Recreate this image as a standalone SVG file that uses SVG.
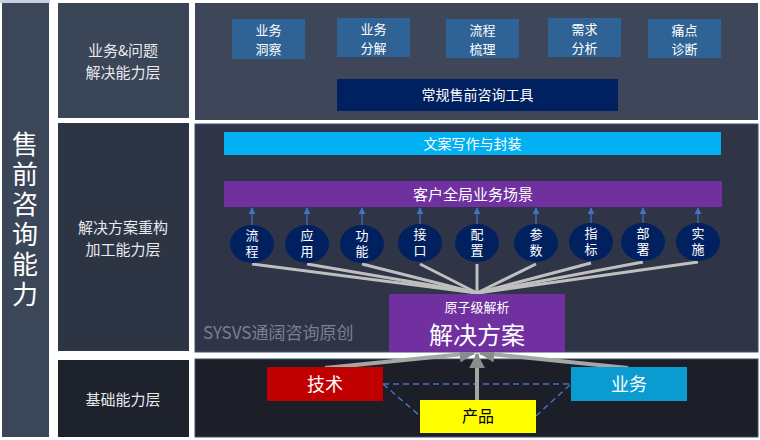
<svg xmlns="http://www.w3.org/2000/svg" width="760" height="440" viewBox="0 0 760 440">
<defs>
<style>
.t{font-family:"Noto Sans CJK SC","Liberation Sans",sans-serif;fill:#ffffff;text-anchor:middle}
.lbl{font-size:15px;fill:#e8eaee}
.box{font-size:13px}
.circ{fill:#002060}
.ct{font-size:13px;writing-mode:vertical-rl;letter-spacing:3px}
.gl{stroke:#bfbfbf;stroke-width:3;fill:none}
.ga{stroke:#a6a6a6;stroke-width:4;fill:none}
.ba{stroke:#4472c4;stroke-width:1.2;fill:none}
.dash{stroke:#4472c4;stroke-width:1.5;stroke-dasharray:6,4;fill:none}
</style>
<marker id="bh" viewBox="0 0 10 10" refX="9" refY="5" markerWidth="7" markerHeight="7" markerUnits="userSpaceOnUse" orient="auto">
<path d="M0,0 L10,5 L0,10 z" fill="#4472c4"/>
</marker>
<marker id="gh" viewBox="0 0 10 10" refX="9" refY="5" markerWidth="4" markerHeight="4" orient="auto">
<path d="M0,0 L10,5 L0,10 z" fill="#8c8c8c"/>
</marker>
</defs>
<rect width="760" height="440" fill="#ffffff"/>
<g id="panels">
<rect x="0" y="0" width="50" height="3" fill="#c9d0e0"/>
<rect x="2" y="3" width="47" height="434" fill="#3b4659"/>
<rect x="58" y="3" width="131" height="115" fill="#3b4558"/>
<rect x="195" y="3" width="563" height="117" fill="#3d4759"/>
<rect x="58" y="123" width="131" height="228" fill="#2d3444"/>
<rect x="195" y="124" width="563" height="228" fill="#2f3546" stroke="#3d5070" stroke-width="1"/>
<rect x="58" y="360" width="131" height="77" fill="#1e222c"/>
<rect x="195" y="359" width="563" height="78" fill="#1c1f28" stroke="#3a4e6a" stroke-width="1"/>
</g>
<g id="left-title">
<text class="t" x="25" y="221" font-size="26" style="writing-mode:vertical-rl;letter-spacing:4px">售前咨询能力</text>
</g>
<g id="row1-label"><text class="t lbl" x="123" y="56">业务&amp;问题</text><text class="t lbl" x="123" y="78">解决能力层</text></g>
<g id="row2-label"><text class="t lbl" x="123" y="233">解决方案重构</text><text class="t lbl" x="123" y="255">加工能力层</text></g>
<g id="row3-label"><text class="t lbl" x="123" y="405">基础能力层</text></g>
<g id="n-insight"><rect x="232" y="19" width="73" height="40" fill="#2f6395"/><text class="t box" x="268.5" y="35">业务</text><text class="t box" x="268.5" y="54">洞察</text></g>
<g id="n-decomp"><rect x="337" y="18" width="73" height="39" fill="#2f6395"/><text class="t box" x="373.5" y="34">业务</text><text class="t box" x="373.5" y="53">分解</text></g>
<g id="n-process"><rect x="446" y="19" width="73" height="39" fill="#2f6395"/><text class="t box" x="482.5" y="35">流程</text><text class="t box" x="482.5" y="54">梳理</text></g>
<g id="n-demand"><rect x="548" y="18" width="73" height="39" fill="#2f6395"/><text class="t box" x="584.5" y="34">需求</text><text class="t box" x="584.5" y="53">分析</text></g>
<g id="n-pain"><rect x="648" y="19" width="73" height="39" fill="#2f6395"/><text class="t box" x="684.5" y="35">痛点</text><text class="t box" x="684.5" y="54">诊断</text></g>
<g id="n-tools"><rect x="337" y="79" width="281" height="32" fill="#002060"/><text class="t" font-size="14" x="477.5" y="100">常规售前咨询工具</text></g>
<g id="n-writing"><rect x="224" y="132" width="497" height="23" fill="#00b0f0"/><text class="t" font-size="14" x="472.5" y="148.5">文案写作与封装</text></g>
<g id="n-scene"><rect x="224" y="181" width="498" height="26" fill="#7030a0"/><text class="t" font-size="15" x="473" y="199.5">客户全局业务场景</text></g>
<g id="connectors">
<g>
<line class="ba" x1="252" y1="225" x2="252" y2="208" marker-end="url(#bh)"/>
<line class="ba" x1="307" y1="225" x2="307" y2="208" marker-end="url(#bh)"/>
<line class="ba" x1="362" y1="225" x2="362" y2="208" marker-end="url(#bh)"/>
<line class="ba" x1="420" y1="225" x2="420" y2="208" marker-end="url(#bh)"/>
<line class="ba" x1="477" y1="225" x2="477" y2="208" marker-end="url(#bh)"/>
<line class="ba" x1="536" y1="225" x2="536" y2="208" marker-end="url(#bh)"/>
<line class="ba" x1="591" y1="225" x2="591" y2="208" marker-end="url(#bh)"/>
<line class="ba" x1="643" y1="225" x2="643" y2="208" marker-end="url(#bh)"/>
<line class="ba" x1="698" y1="225" x2="698" y2="208" marker-end="url(#bh)"/>
</g>
<g>
<line class="gl" x1="252" y1="264" x2="477" y2="293"/>
<line class="gl" x1="307" y1="264" x2="477" y2="293"/>
<line class="gl" x1="362" y1="264" x2="477" y2="293"/>
<line class="gl" x1="420" y1="264" x2="477" y2="293"/>
<line class="gl" x1="477" y1="264" x2="477" y2="293"/>
<line class="gl" x1="536" y1="264" x2="477" y2="293"/>
<line class="gl" x1="591" y1="263" x2="477" y2="293"/>
<line class="gl" x1="643" y1="262" x2="477" y2="293"/>
<line class="gl" x1="698" y1="262" x2="477" y2="293"/>
</g>
<path class="dash" d="M383,384 L571,384 M383,384 L420,416 M536,416 L571,384"/>
<line class="ga" x1="325" y1="368" x2="474" y2="353" marker-end="url(#gh)"/>
<line class="ga" x1="628" y1="368" x2="480" y2="353" marker-end="url(#gh)"/>
<line class="ga" x1="477" y1="400" x2="477" y2="354" marker-end="url(#gh)"/>
</g>
<g id="n-flow"><ellipse class="circ" cx="252" cy="244" rx="22" ry="19"/><text class="t ct" x="252" y="245">流程</text></g>
<g id="n-app"><ellipse class="circ" cx="307" cy="244" rx="22" ry="19"/><text class="t ct" x="307" y="245">应用</text></g>
<g id="n-func"><ellipse class="circ" cx="362" cy="244" rx="22" ry="19"/><text class="t ct" x="362" y="245">功能</text></g>
<g id="n-iface"><ellipse class="circ" cx="420" cy="243" rx="22" ry="19"/><text class="t ct" x="420" y="244">接口</text></g>
<g id="n-config"><ellipse class="circ" cx="477" cy="243" rx="22" ry="19"/><text class="t ct" x="477" y="244">配置</text></g>
<g id="n-param"><ellipse class="circ" cx="536" cy="243" rx="22" ry="19"/><text class="t ct" x="536" y="244">参数</text></g>
<g id="n-metric"><ellipse class="circ" cx="591" cy="242" rx="22" ry="19"/><text class="t ct" x="591" y="243">指标</text></g>
<g id="n-deploy"><ellipse class="circ" cx="643" cy="242" rx="22" ry="19"/><text class="t ct" x="643" y="243">部署</text></g>
<g id="n-impl"><ellipse class="circ" cx="698" cy="242" rx="22" ry="19"/><text class="t ct" x="698" y="243">实施</text></g>
<g id="n-solution"><rect x="389" y="294" width="176" height="58" fill="#7030a0"/><text class="t" font-size="13" x="477" y="312">原子级解析</text><text class="t" font-size="24" x="477" y="344">解决方案</text></g>
<g id="watermark"><text x="203" y="339" font-family="Noto Sans CJK SC,Liberation Sans,sans-serif" font-size="17" fill="#7a808c">SYSVS通阔咨询原创</text></g>
<g id="n-tech"><rect x="267" y="367" width="116" height="34" fill="#c00000"/><text class="t" font-size="18" x="325" y="391">技术</text></g>
<g id="n-biz"><rect x="571" y="367" width="116" height="34" fill="#0a9cd0"/><text class="t" font-size="18" x="629" y="391">业务</text></g>
<g id="n-product"><rect x="420" y="400" width="116" height="33" fill="#ffff00"/><text class="t" font-size="16" style="fill:#000000" x="478" y="422">产品</text></g>
</svg>
